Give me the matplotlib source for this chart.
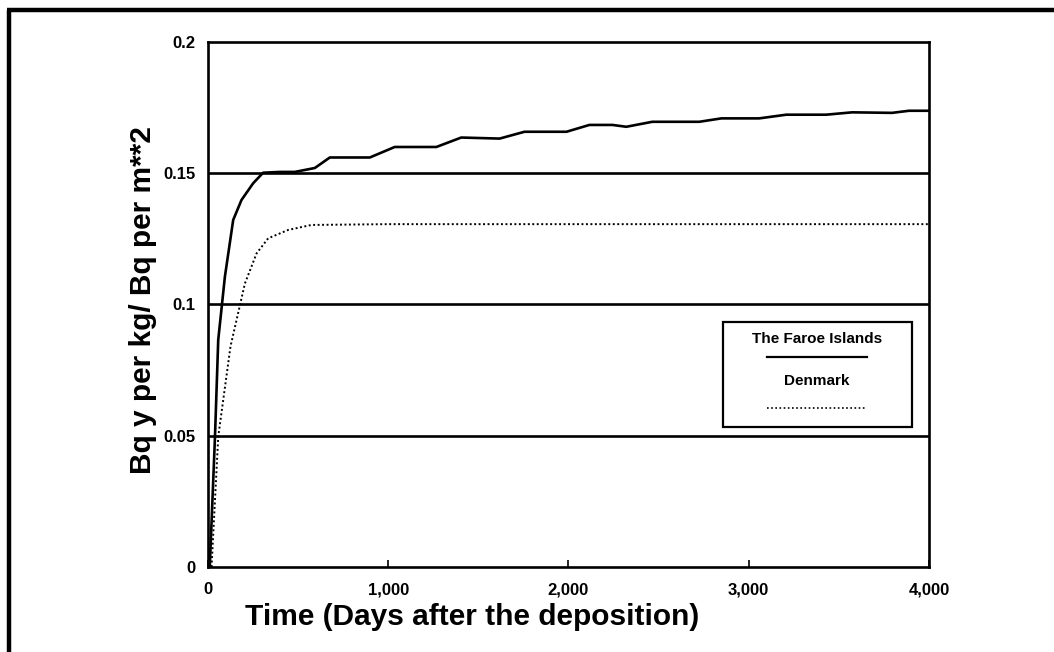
import matplotlib
matplotlib.use("Agg")
import matplotlib.pyplot as plt
from matplotlib.lines import Line2D

# Accumulated dose factor over time after the deposition
faroe_days = [10, 39, 57, 94, 140, 186, 251, 306, 400, 482, 593, 676, 898,
              1036, 1267, 1405, 1618, 1756, 1989, 2116, 2244, 2321, 2465,
              2726, 2848, 3058, 3208, 3429, 3573, 3795, 3889, 4000]
faroe_vals = [0.0, 0.0496, 0.0865, 0.1106, 0.1322, 0.1398, 0.1462, 0.1502,
              0.1505, 0.1505, 0.152, 0.156, 0.156, 0.160, 0.160, 0.1636,
              0.1632, 0.1658, 0.1658, 0.1684, 0.1684, 0.1677, 0.1696, 0.1696,
              0.1709, 0.1709, 0.1723, 0.1723, 0.1732, 0.1730, 0.1738, 0.1738]

denmark_days = [20, 57, 125, 205, 270, 334, 445, 574, 1000, 2000, 3000, 4000]
denmark_vals = [0.0, 0.0496, 0.084, 0.108, 0.1195, 0.1252, 0.1284, 0.1303,
                0.1306, 0.1306, 0.1306, 0.1306]

x_ticks = [0, 1000, 2000, 3000, 4000]
x_tick_labels = ["0", "1,000", "2,000", "3,000", "4,000"]
y_ticks = [0, 0.05, 0.1, 0.15, 0.2]
y_tick_labels = ["0", "0.05", "0.1", "0.15", "0.2"]

series_names = ["The Faroe Islands", "Denmark"]

plt.rcParams["font.family"] = ["Liberation Sans", "DejaVu Sans"]

fig = plt.figure(figsize=(10.54, 6.52), dpi=100)
ax = fig.add_axes([0.1973, 0.1304, 0.6841, 0.8052])

# page frame (top and left edges)
fig.add_artist(Line2D([0.007, 1.0], [0.985, 0.985], transform=fig.transFigure,
                      color="black", lw=3.2, solid_capstyle="butt"))
fig.add_artist(Line2D([0.0085, 0.0085], [0.0, 0.985], transform=fig.transFigure,
                      color="black", lw=3.2, solid_capstyle="butt"))

for yv in y_ticks[1:-1]:
    ax.axhline(yv, color="black", lw=1.9, zorder=1)

ax.plot(faroe_days, faroe_vals, color="black", lw=1.9, zorder=3)
ax.plot(denmark_days, denmark_vals, color="black", lw=1.4,
        linestyle=(0, (1, 1.3)), zorder=3)

ax.set_xlim(0, 4000)
ax.set_ylim(0, 0.2)
ax.set_xticks(x_ticks)
ax.set_xticklabels(x_tick_labels, fontsize=12, fontweight="bold")
ax.set_yticks(y_ticks)
ax.set_yticklabels(y_tick_labels, fontsize=12, fontweight="bold")
ax.tick_params(axis="x", direction="in", length=5, width=1.2, pad=11)
ax.tick_params(axis="y", length=0, pad=9)

for sp in ax.spines.values():
    sp.set_linewidth(1.9)

ax.set_xlabel("Time (Days after the deposition)", fontsize=21.5, fontweight="bold")
ax.xaxis.set_label_coords(0.366, -0.095)
ax.set_ylabel("Bq y per kg/ Bq per m**2", fontsize=21.5, fontweight="bold")
ax.yaxis.set_label_coords(-0.090, 0.509)
ax.xaxis.label.set_va("center")
ax.yaxis.label.set_va("center")

# legend box with names above their line samples
lx0, lx1 = 0.714, 0.976
ly0, ly1 = 0.267, 0.467
ax.add_patch(plt.Rectangle((lx0, ly0), lx1 - lx0, ly1 - ly0,
                           transform=ax.transAxes, fill=True, facecolor="white",
                           edgecolor="black", lw=1.6, zorder=5))
cx = (lx0 + lx1) / 2
ax.text(cx, 0.434, series_names[0], transform=ax.transAxes, ha="center",
        va="center", fontsize=11, fontweight="bold", zorder=6)
ax.add_line(Line2D([cx - 0.069, cx + 0.069], [0.400, 0.400],
                   transform=ax.transAxes, color="black", lw=1.6, zorder=6))
ax.text(cx, 0.354, series_names[1], transform=ax.transAxes, ha="center",
        va="center", fontsize=11, fontweight="bold", zorder=6)
ax.add_line(Line2D([cx - 0.069, cx + 0.069], [0.303, 0.303],
                   transform=ax.transAxes, color="black", lw=1.2,
                   linestyle=(0, (1, 1.5)), zorder=6))

fig.savefig("out.png", dpi=100)
